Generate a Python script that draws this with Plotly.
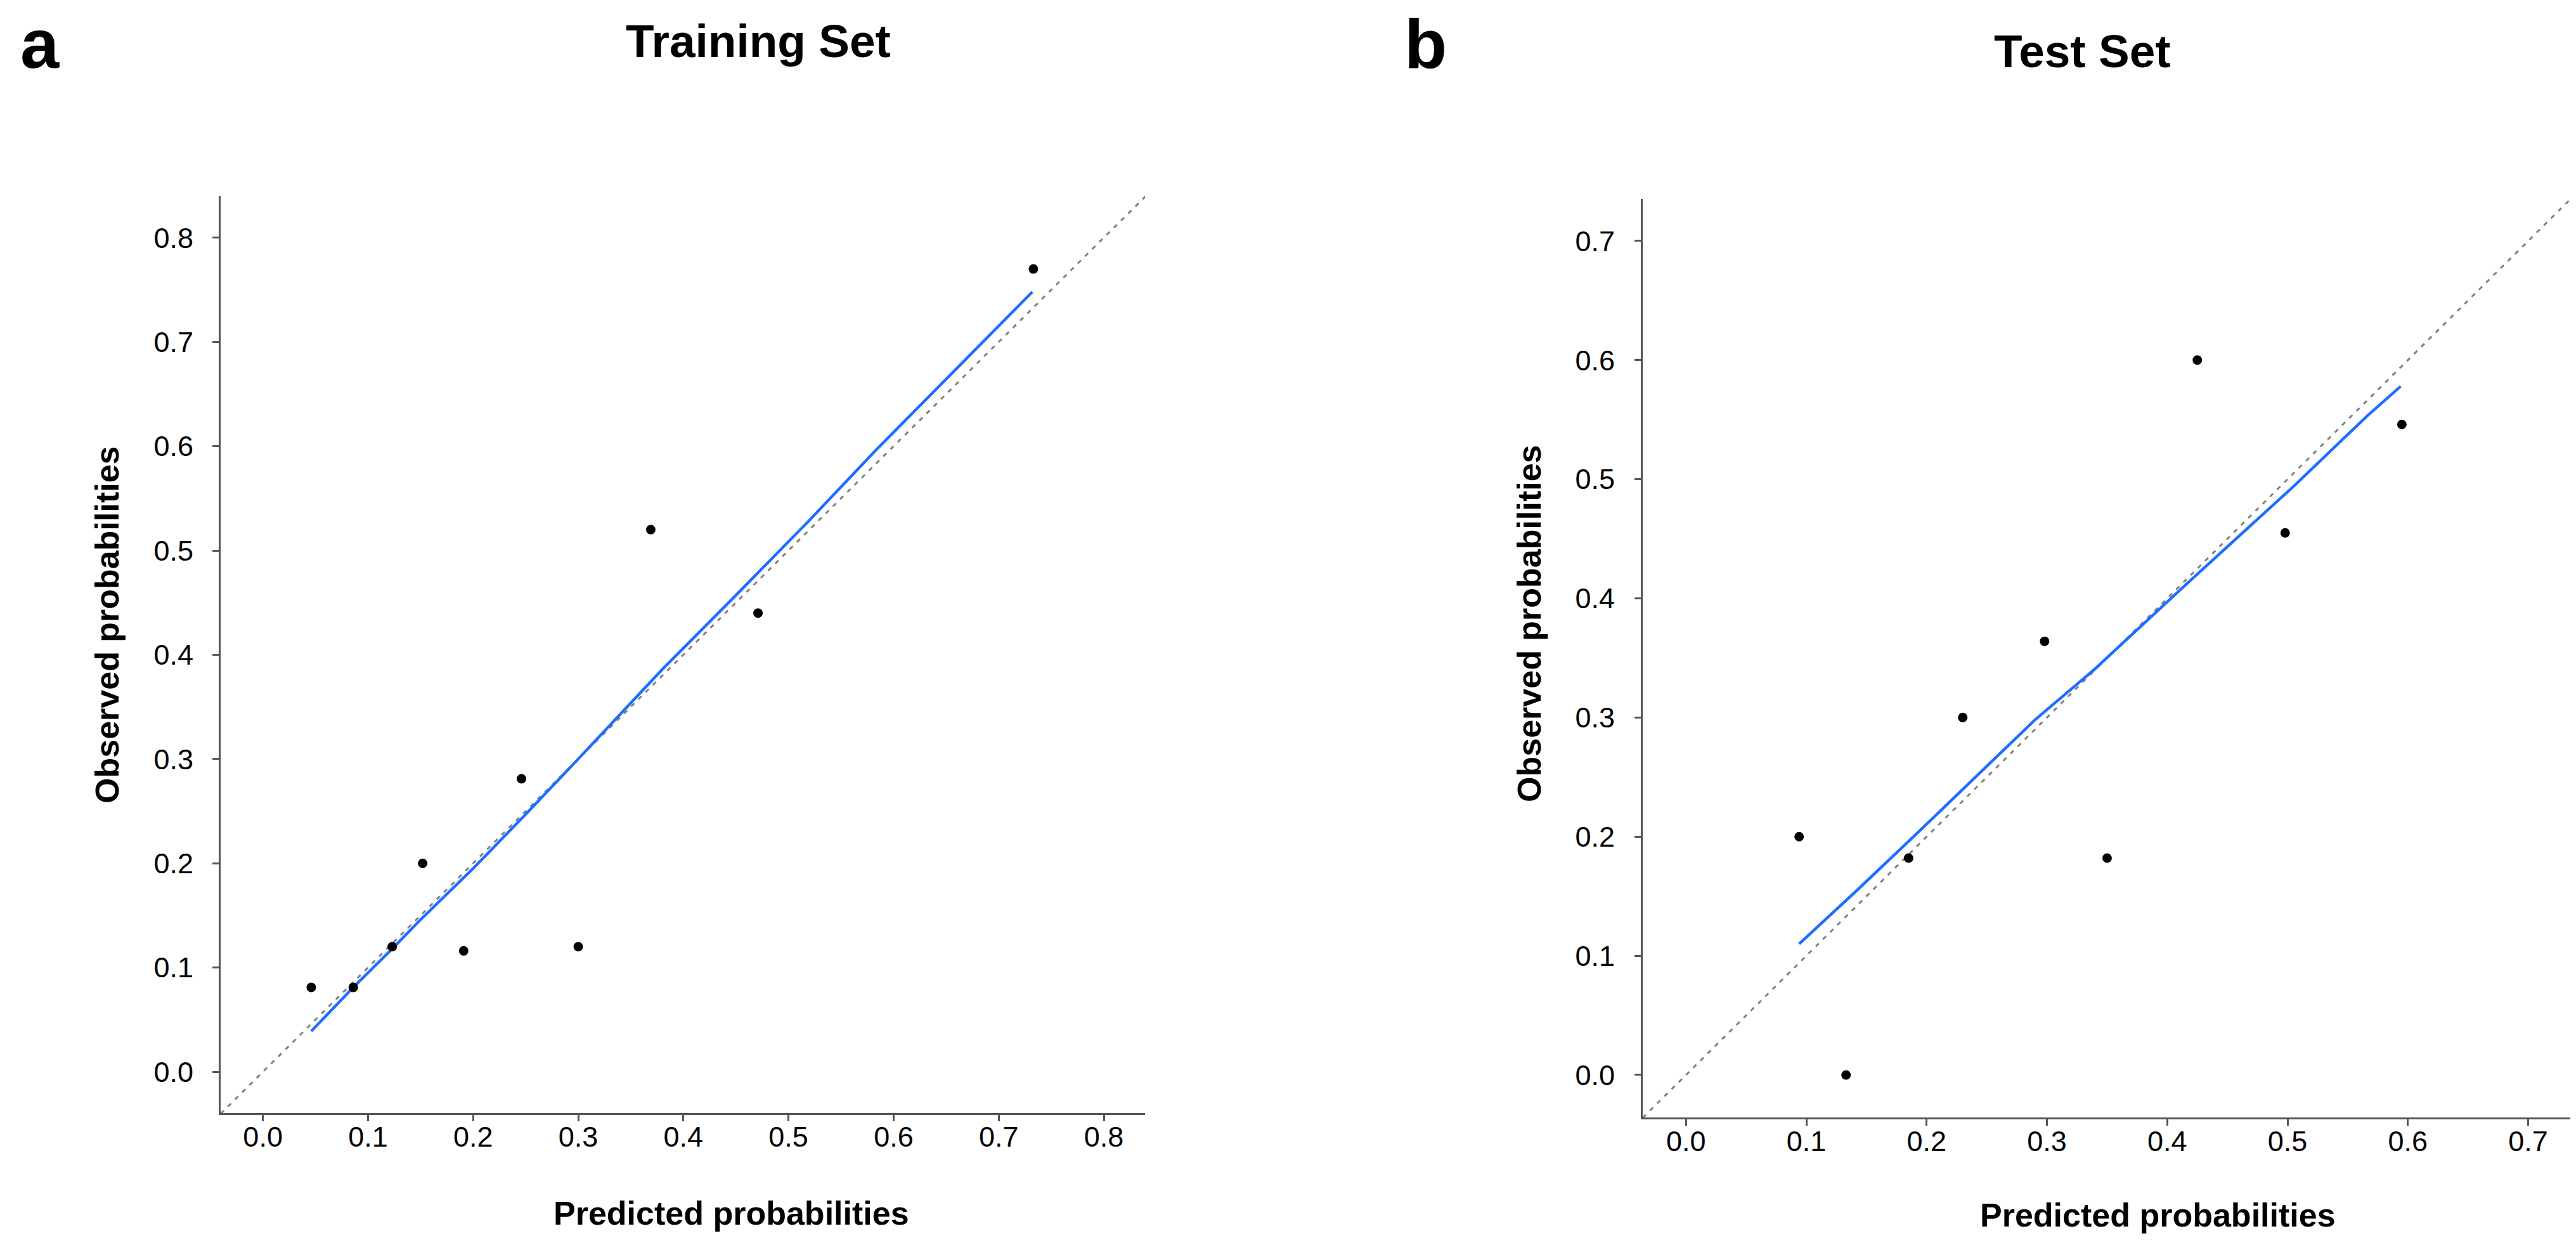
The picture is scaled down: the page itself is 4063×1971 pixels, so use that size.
import plotly.graph_objects as go

# ---------------- data ----------------
train_pred = [0.046, 0.086, 0.123, 0.152, 0.191, 0.246, 0.300, 0.369, 0.471, 0.733]
train_obs = [0.081, 0.081, 0.120, 0.200, 0.116, 0.281, 0.120, 0.520, 0.440, 0.770]
train_curve_x = [0.046, 0.086, 0.123, 0.150, 0.200, 0.250, 0.300, 0.380, 0.447, 0.519, 0.582, 0.647, 0.732]
train_curve_y = [0.039, 0.081, 0.118, 0.146, 0.195, 0.247, 0.300, 0.386, 0.454, 0.528, 0.595, 0.661, 0.748]

test_pred = [0.094, 0.133, 0.185, 0.230, 0.298, 0.350, 0.425, 0.498, 0.595]
test_obs = [0.200, 0.000, 0.182, 0.300, 0.364, 0.182, 0.600, 0.455, 0.546]
test_curve_x = [0.094, 0.140, 0.185, 0.230, 0.290, 0.339, 0.417, 0.506, 0.566, 0.594]
test_curve_y = [0.110, 0.153, 0.196, 0.240, 0.298, 0.340, 0.413, 0.495, 0.553, 0.578]

train_ticks = [0.0, 0.1, 0.2, 0.3, 0.4, 0.5, 0.6, 0.7, 0.8]
test_ticks = [0.0, 0.1, 0.2, 0.3, 0.4, 0.5, 0.6, 0.7]

train_xrange = [-0.0402, 0.8392]
train_yrange = [-0.0395, 0.8400]
test_xrange = [-0.036, 0.735]
test_yrange = [-0.0357, 0.7351]

panel_titles = ["Training Set", "Test Set"]
panel_letters = ["a", "b"]
x_title = "Predicted probabilities"
y_title = "Observed probabilities"

# ---------------- figure ----------------
W, H = 4063, 1971
FONT = "Liberation Sans, Arial, sans-serif"
AXIS_COLOR = "#555555"
BLUE = "#1E6EFF"
DIAG = "#808080"

fig = go.Figure()

def add_panel(xa, ya, px, py, cx, cy, rx, ry):
    # ideal reference diagonal across the full plot area
    lo = min(rx[0], ry[0]); hi = max(rx[1], ry[1])
    fig.add_trace(go.Scatter(x=[lo, hi], y=[lo, hi], mode="lines",
                             line=dict(color=DIAG, width=3, dash="7px,9px"),
                             xaxis=xa, yaxis=ya, showlegend=False, hoverinfo="skip"))
    fig.add_trace(go.Scatter(x=cx, y=cy, mode="lines",
                             line=dict(color=BLUE, width=4.5),
                             xaxis=xa, yaxis=ya, showlegend=False))
    fig.add_trace(go.Scatter(x=px, y=py, mode="markers",
                             marker=dict(color="black", size=15),
                             xaxis=xa, yaxis=ya, showlegend=False))

add_panel("x", "y", train_pred, train_obs, train_curve_x, train_curve_y, train_xrange, train_yrange)
add_panel("x2", "y2", test_pred, test_obs, test_curve_x, test_curve_y, test_xrange, test_yrange)

def axis_style(rng, ticks, standoff, anchor, domain):
    return dict(range=rng, tickvals=ticks, tickformat=".1f", domain=domain, anchor=anchor,
                showline=True, linecolor=AXIS_COLOR, linewidth=3, mirror=False,
                ticks="outside", ticklen=10, tickwidth=2.5, tickcolor=AXIS_COLOR,
                showgrid=False, zeroline=False,
                tickfont=dict(family=FONT, size=45, color="black"),
                ticklabelstandoff=standoff)

fig.update_layout(
    width=W, height=H,
    margin=dict(l=0, r=0, t=0, b=0),
    paper_bgcolor="white", plot_bgcolor="white",
    xaxis=axis_style(train_xrange, train_ticks, -14, "y", [340 / W, 1798 / W]),
    yaxis=axis_style(train_yrange, train_ticks, 21, "x", [1 - 1747 / H, 1 - 301 / H]),
    xaxis2=axis_style(test_xrange, test_ticks, -14, "y2", [2583 / W, 4046 / W]),
    yaxis2=axis_style(test_yrange, test_ticks, 22, "x2", [1 - 1754 / H, 1 - 306 / H]),
)

ann = []
# panel letters
ann.append(dict(text="<b>%s</b>" % panel_letters[0], x=22 / W, y=1 - 60 / H, xanchor="left", yanchor="middle",
                font=dict(family=FONT, size=110, color="black")))
ann.append(dict(text="<b>%s</b>" % panel_letters[1], x=2205 / W, y=1 - 60 / H, xanchor="left", yanchor="middle",
                font=dict(family=FONT, size=110, color="black")))
# panel titles
ann.append(dict(text="<b>%s</b>" % panel_titles[0], x=1188 / W, y=1 - 57 / H, xanchor="center", yanchor="middle",
                font=dict(family=FONT, size=73, color="black")))
ann.append(dict(text="<b>%s</b>" % panel_titles[1], x=3276 / W, y=1 - 72 / H, xanchor="center", yanchor="middle",
                font=dict(family=FONT, size=73, color="black")))
# axis titles
ann.append(dict(text="<b>%s</b>" % x_title, x=1145 / W, y=1 - 1905 / H, xanchor="center", yanchor="middle",
                font=dict(family=FONT, size=52, color="black")))
ann.append(dict(text="<b>%s</b>" % x_title, x=3395 / W, y=1 - 1908 / H, xanchor="center", yanchor="middle",
                font=dict(family=FONT, size=52, color="black")))
ann.append(dict(text="<b>%s</b>" % y_title, x=161 / W, y=1 - 977 / H, xanchor="center", yanchor="middle",
                textangle=-90, font=dict(family=FONT, size=52, color="black")))
ann.append(dict(text="<b>%s</b>" % y_title, x=2404 / W, y=1 - 975 / H, xanchor="center", yanchor="middle",
                textangle=-90, font=dict(family=FONT, size=52, color="black")))
for a in ann:
    a.update(xref="paper", yref="paper", showarrow=False)
fig.update_layout(annotations=ann)

fig.write_html("out.html")
